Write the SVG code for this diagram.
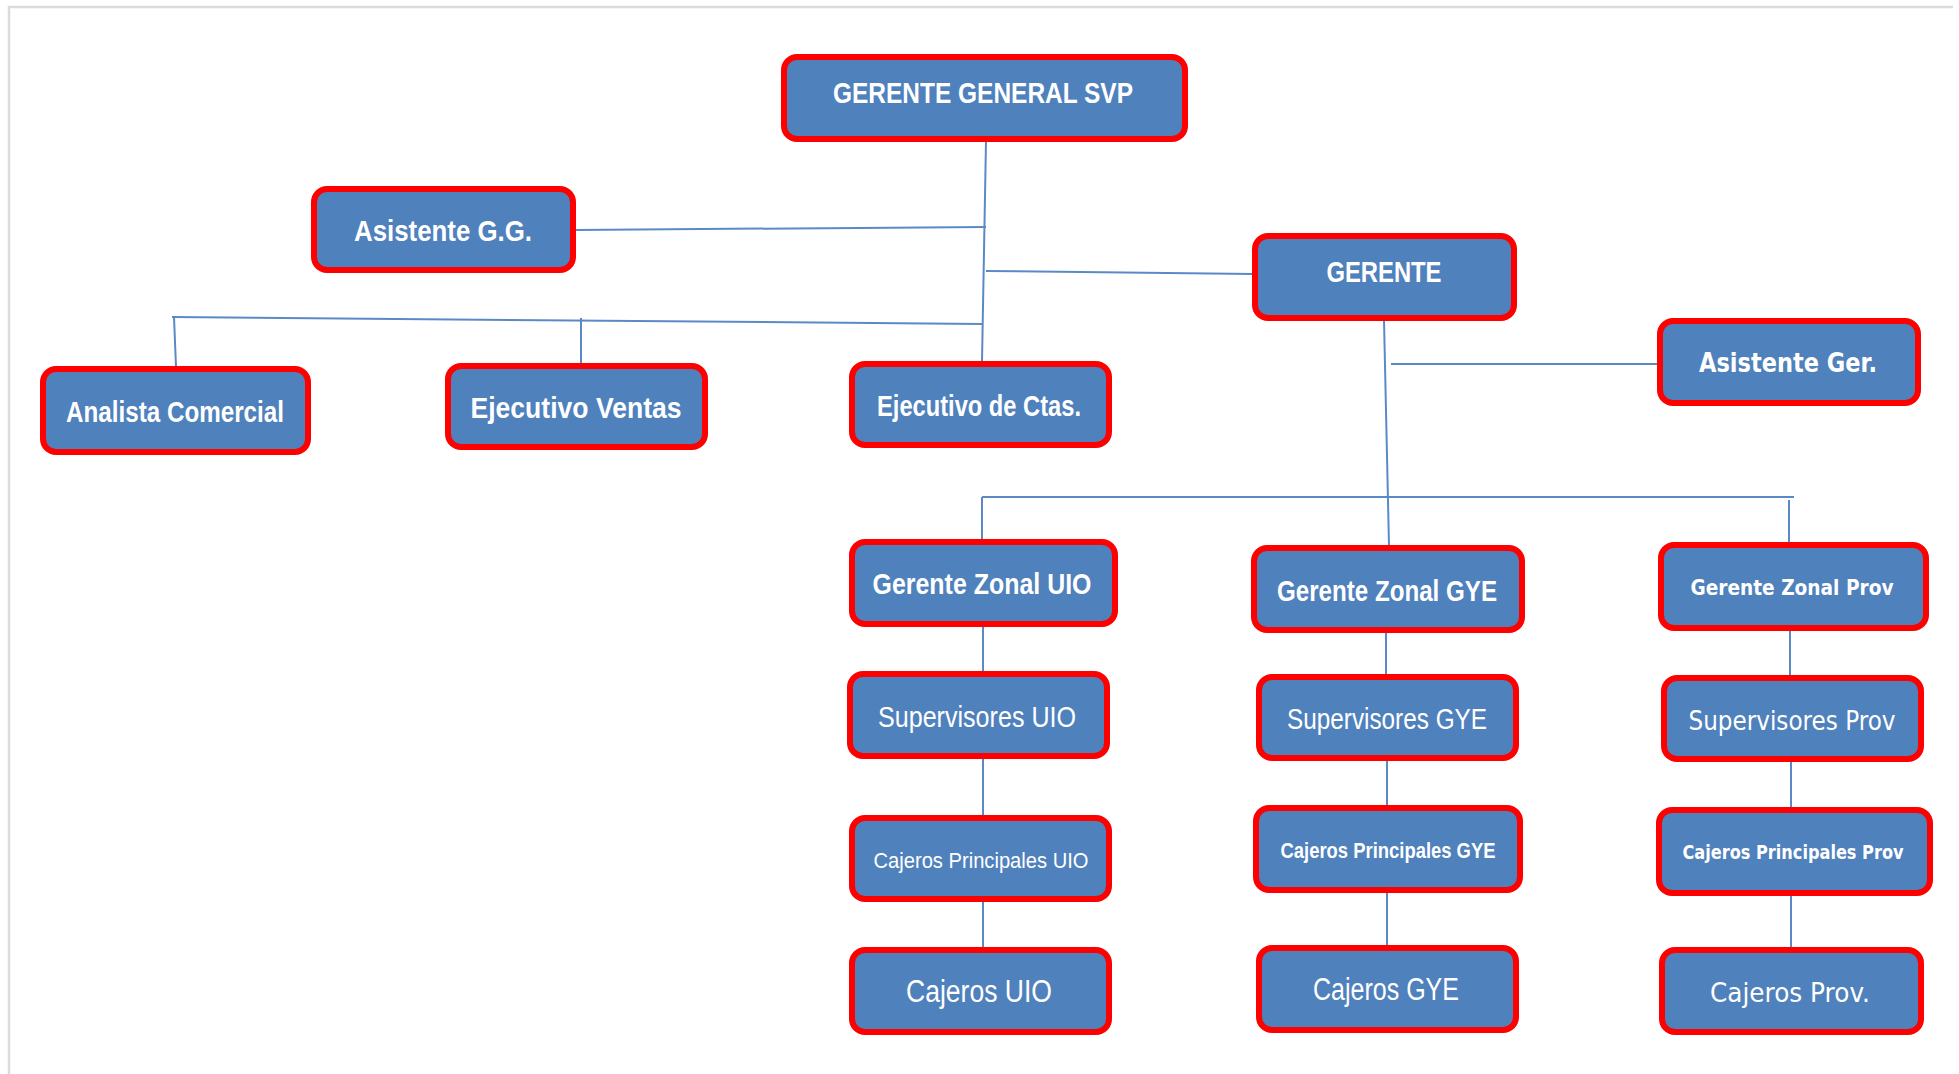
<svg xmlns="http://www.w3.org/2000/svg" width="1959" height="1074" viewBox="0 0 1959 1074">
  <defs>
    <style>
      .box { fill: #4f81bd; stroke: #ff0000; stroke-width: 6; }
      .lbl { fill: #ffffff; text-anchor: middle; font-family: "Liberation Sans", Arial, sans-serif; }
      .b { font-weight: bold; }
      .wide { font-family: "DejaVu Sans", Verdana, sans-serif; }
      .link { stroke: #5b89c6; stroke-width: 2; fill: none; }
      .frame { stroke: #dcdcdc; stroke-width: 2.5; fill: none; }
    </style>
  </defs>

  <rect width="1959" height="1074" fill="#ffffff"/>
  <!-- page frame -->
  <path class="frame" d="M9,1074 V7 H1953"/>

  <!-- connectors -->
  <g id="connectors">
    <path class="link" d="M986,141 L982,362"/>
    <path class="link" d="M575,230 L986,227"/>
    <path class="link" d="M986,271 L1253,274"/>
    <path class="link" d="M172,317 L982,324"/>
    <path class="link" d="M174,317 L176,367"/>
    <path class="link" d="M581,318 L581,364"/>
    <path class="link" d="M1384,320 L1389,546"/>
    <path class="link" d="M1391,364 L1658,364"/>
    <path class="link" d="M982,497 L1794,497"/>
    <path class="link" d="M982,497 L982,540"/>
    <path class="link" d="M1789,500 L1789,543"/>
    <path class="link" d="M983,626 L983,672"/>
    <path class="link" d="M983,758 L983,816"/>
    <path class="link" d="M983,901 L983,948"/>
    <path class="link" d="M1386,632 L1386,675"/>
    <path class="link" d="M1387,760 L1387,806"/>
    <path class="link" d="M1387,892 L1387,946"/>
    <path class="link" d="M1790,630 L1790,676"/>
    <path class="link" d="M1791,761 L1791,808"/>
    <path class="link" d="M1791,895 L1791,948"/>
  </g>

  <g id="gerente-general">
    <rect class="box" x="784" y="57" width="401" height="82" rx="13"/>
    <text class="lbl b" x="983" y="103" font-size="30" textLength="300" lengthAdjust="spacingAndGlyphs">GERENTE GENERAL SVP</text>
  </g>

  <g id="asistente-gg">
    <rect class="box" x="314" y="189" width="259" height="81" rx="13"/>
    <text class="lbl b" x="443" y="241" font-size="30" textLength="178" lengthAdjust="spacingAndGlyphs">Asistente  G.G.</text>
  </g>

  <g id="gerente">
    <rect class="box" x="1255" y="236" width="259" height="82" rx="13"/>
    <text class="lbl b" x="1384" y="282" font-size="30" textLength="115" lengthAdjust="spacingAndGlyphs">GERENTE</text>
  </g>

  <g id="asistente-ger">
    <rect class="box" x="1660" y="321" width="258" height="82" rx="13"/>
    <text class="lbl b wide" x="1788" y="372" font-size="26" textLength="178" lengthAdjust="spacingAndGlyphs">Asistente  Ger.</text>
  </g>

  <g id="analista-comercial">
    <rect class="box" x="43" y="369" width="265" height="83" rx="13"/>
    <text class="lbl b" x="175" y="422" font-size="30" textLength="218" lengthAdjust="spacingAndGlyphs">Analista Comercial</text>
  </g>

  <g id="ejecutivo-ventas">
    <rect class="box" x="448" y="366" width="257" height="81" rx="13"/>
    <text class="lbl b" x="576" y="418" font-size="30" textLength="211" lengthAdjust="spacingAndGlyphs">Ejecutivo Ventas</text>
  </g>

  <g id="ejecutivo-ctas">
    <rect class="box" x="852" y="364" width="257" height="81" rx="13"/>
    <text class="lbl b" x="979" y="416" font-size="30" textLength="204" lengthAdjust="spacingAndGlyphs">Ejecutivo de Ctas.</text>
  </g>

  <g id="gerente-zonal-uio">
    <rect class="box" x="852" y="542" width="263" height="82" rx="13"/>
    <text class="lbl b" x="982" y="594" font-size="30" textLength="219" lengthAdjust="spacingAndGlyphs">Gerente Zonal UIO</text>
  </g>

  <g id="gerente-zonal-gye">
    <rect class="box" x="1254" y="548" width="268" height="82" rx="13"/>
    <text class="lbl b" x="1387" y="601" font-size="30" textLength="220" lengthAdjust="spacingAndGlyphs">Gerente Zonal GYE</text>
  </g>

  <g id="gerente-zonal-prov">
    <rect class="box" x="1661" y="545" width="265" height="83" rx="13"/>
    <text class="lbl b wide" x="1792" y="595" font-size="22" textLength="203" lengthAdjust="spacingAndGlyphs">Gerente Zonal  Prov</text>
  </g>

  <g id="supervisores-uio">
    <rect class="box" x="850" y="674" width="257" height="82" rx="13"/>
    <text class="lbl" x="977" y="727" font-size="29" textLength="198" lengthAdjust="spacingAndGlyphs">Supervisores UIO</text>
  </g>

  <g id="supervisores-gye">
    <rect class="box" x="1259" y="677" width="257" height="81" rx="13"/>
    <text class="lbl" x="1387" y="729" font-size="29" textLength="200" lengthAdjust="spacingAndGlyphs">Supervisores GYE</text>
  </g>

  <g id="supervisores-prov">
    <rect class="box" x="1664" y="678" width="257" height="81" rx="13"/>
    <text class="lbl wide" x="1792" y="730" font-size="26" textLength="207" lengthAdjust="spacingAndGlyphs">Supervisores Prov</text>
  </g>

  <g id="cajeros-principales-uio">
    <rect class="box" x="852" y="818" width="257" height="81" rx="13"/>
    <text class="lbl" x="981" y="868" font-size="22" textLength="215" lengthAdjust="spacingAndGlyphs">Cajeros Principales UIO</text>
  </g>

  <g id="cajeros-principales-gye">
    <rect class="box" x="1256" y="808" width="264" height="82" rx="13"/>
    <text class="lbl b" x="1388" y="858" font-size="22" textLength="215" lengthAdjust="spacingAndGlyphs">Cajeros Principales  GYE</text>
  </g>

  <g id="cajeros-principales-prov">
    <rect class="box" x="1659" y="810" width="271" height="83" rx="13"/>
    <text class="lbl b wide" x="1793" y="859" font-size="20" textLength="221" lengthAdjust="spacingAndGlyphs">Cajeros Principales  Prov</text>
  </g>

  <g id="cajeros-uio">
    <rect class="box" x="852" y="950" width="257" height="82" rx="13"/>
    <text class="lbl" x="979" y="1002" font-size="31" textLength="146" lengthAdjust="spacingAndGlyphs">Cajeros UIO</text>
  </g>

  <g id="cajeros-gye">
    <rect class="box" x="1259" y="948" width="257" height="82" rx="13"/>
    <text class="lbl" x="1386" y="1000" font-size="31" textLength="146" lengthAdjust="spacingAndGlyphs">Cajeros GYE</text>
  </g>

  <g id="cajeros-prov">
    <rect class="box" x="1662" y="950" width="259" height="82" rx="13"/>
    <text class="lbl wide" x="1790" y="1002" font-size="27" textLength="160" lengthAdjust="spacingAndGlyphs">Cajeros Prov.</text>
  </g>
</svg>
